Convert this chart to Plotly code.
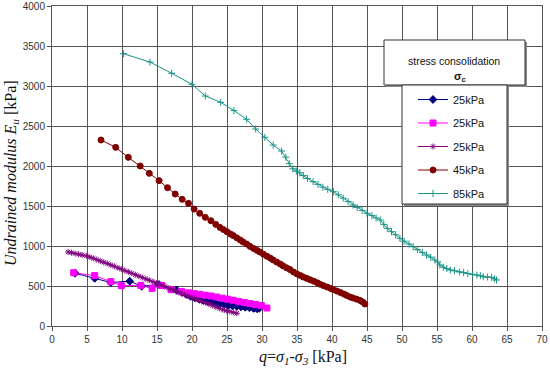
import plotly.graph_objects as go

# ---- data ----
blue_q = [3.3, 6.1, 8.4, 11.1, 12.8, 15.3, 17.8, 18.6, 19.2, 19.8, 20.4, 21.0, 21.6, 22.2, 22.8, 23.4,
          24.0, 24.6, 25.2, 25.8, 26.4, 27.0, 27.6, 28.2, 28.8, 29.3, 29.6]
blue_E = [659, 596, 544, 560, 498, 518, 450, 420, 395, 372, 352, 336, 322, 310, 298, 286,
          275, 266, 258, 252, 246, 240, 234, 228, 220, 214, 222]

magenta_q = [3.1, 6.1, 8.4, 9.9, 12.7, 14.3, 15.7, 17.0, 18.5, 19.5, 20.3, 21.1, 21.9, 22.7, 23.5,
             24.3, 25.1, 25.9, 26.7, 27.5, 28.3, 29.1, 29.9, 30.7]
magenta_E = [666, 630, 555, 504, 508, 470, 505, 455, 430, 415, 405, 395, 385, 375, 362,
             348, 335, 322, 305, 292, 280, 268, 255, 225]

purple_q = [2.3, 2.8, 3.3, 3.8, 4.3, 4.9, 5.4, 5.9, 6.4, 6.9, 7.4, 7.9, 8.4, 8.9, 9.4, 9.9, 10.4,
            10.9, 11.4, 11.9, 12.4, 12.9, 13.4, 13.9, 14.4, 14.9, 15.4, 15.9, 16.4, 16.9, 17.4,
            17.9, 18.4, 18.9, 19.4, 19.9, 20.4, 20.9, 21.4, 21.9, 22.4, 22.9, 23.4, 23.9, 24.4,
            24.9, 25.4, 25.9, 26.4]
purple_E = [925, 916, 906, 897, 888, 877, 862, 846, 830, 813, 797, 781, 763, 746, 728, 711, 693,
            676, 658, 641, 623, 606, 589, 572, 554, 537, 520, 502, 483, 465, 447,
            429, 411, 393, 376, 359, 342, 325, 308, 291, 274, 256, 239, 221, 204,
            192, 181, 170, 159]

red_q = [7.0, 9.1, 10.9, 12.6, 13.9, 15.3, 16.5, 17.6, 18.6, 19.5, 20.3, 21.1, 21.9, 22.7, 23.4,
         24.0, 24.5, 25.0, 25.5, 25.9, 26.4, 26.9, 27.3, 27.8, 28.3, 28.8, 29.3, 29.7, 30.2, 30.7,
         31.2, 31.6, 32.1, 32.6, 33.0, 33.5, 34.0, 34.5, 35.0, 35.5, 35.9, 36.4, 36.9, 37.4, 37.9,
         38.3, 38.8, 39.3, 39.8, 40.2, 40.7, 41.2, 41.7, 42.1, 42.6, 43.0, 43.5, 44.0, 44.4, 44.7]
red_E = [2325, 2233, 2108, 2000, 1908, 1817, 1729, 1650, 1583, 1533, 1462, 1408, 1358, 1316, 1270,
         1232, 1205, 1178, 1150, 1130, 1102, 1075, 1050, 1025, 995, 968, 945, 925, 898, 872,
         848, 825, 800, 775, 752, 728, 705, 675, 650, 630, 612, 595, 577, 560, 540,
         522, 504, 487, 470, 455, 437, 418, 400, 382, 362, 350, 336, 320, 300, 275]

teal_q = [10.2, 14.0, 17.1, 20.0, 21.9, 24.1, 26.0, 27.8, 29.1, 30.4, 31.6, 32.8, 33.4, 33.9, 34.4,
          34.9, 35.4, 35.9, 36.5, 37.3, 38.0, 38.7, 39.4, 40.2, 40.9, 41.6, 42.3, 43.0, 43.6, 44.3,
          45.0, 45.7, 46.3, 46.9, 47.4, 47.9, 48.5, 49.1, 49.7, 50.3, 51.0, 51.6, 52.2, 52.9, 53.5,
          54.1, 54.7, 55.1, 55.4, 55.9, 56.4, 56.9, 57.5, 58.2, 58.8, 59.4, 60.1, 60.7, 61.2, 61.6,
          62.2, 62.8, 63.2, 63.5]
teal_E = [3404, 3300, 3159, 3021, 2875, 2796, 2692, 2584, 2462, 2359, 2262, 2187, 2110, 2030, 1965,
          1935, 1916, 1880, 1845, 1804, 1770, 1735, 1708, 1679, 1640, 1598, 1555, 1512, 1480, 1445,
          1409, 1380, 1350, 1325, 1270, 1220, 1179, 1140, 1096, 1060, 1025, 991, 955, 920, 887,
          860, 825, 800, 762, 735, 718, 700, 690, 676, 666, 655, 645, 637, 628, 616,
          612, 608, 590, 575]

series = [
    ("25kPa", blue_q, blue_E, "#000080", "diamond", 6),
    ("25kPa", magenta_q, magenta_E, "#FF00FF", "square", 6),
    ("25kPa", purple_q, purple_E, "#800080", "asterisk-open", 5),
    ("45kPa", red_q, red_E, "#800000", "circle", 6),
    ("85kPa", teal_q, teal_E, "#1a9488", "cross-thin-open", 5),
]

fig = go.Figure()
for i, (name, q, E, col, sym, sz) in enumerate(series):
    fig.add_trace(go.Scatter(
        x=q, y=E, mode="lines+markers", name=name, legendgroup=f"g{i}",
        line=dict(color=col, width=1),
        marker=dict(symbol=sym, size=sz, color=col, line=dict(color=col, width=1)),
    ))

W, H = 550, 384
L, R, T, B = 52, 8, 6, 58
pw, ph = W - L - R, H - T - B


def px(xp):
    return (xp - L) / pw


def py(yp):
    return (H - B - yp) / ph


shapes = []
boxes = [(384, 40, 525, 85), (402, 85, 507, 204)]
for (x0, y0, x1, y1) in boxes:
    shapes.append(dict(type="rect", xref="paper", yref="paper", layer="above",
                       x0=px(x0 + 2), x1=px(x1 + 2), y0=py(y1 + 2), y1=py(y0 + 2),
                       fillcolor="#8a8a8a", line=dict(width=0)))
for (x0, y0, x1, y1) in boxes:
    shapes.append(dict(type="rect", xref="paper", yref="paper", layer="above",
                       x0=px(x0), x1=px(x1), y0=py(y1), y1=py(y0),
                       fillcolor="white", line=dict(color="#333333", width=1)))

ann_common = dict(xref="paper", yref="paper", showarrow=False, xanchor="center", yanchor="middle")
annotations = [
    dict(text="stress consolidation", x=px(454), y=py(61),
         font=dict(family="Liberation Sans", size=10.5, color="#111"), **ann_common),
    dict(text="<b>σ<sub>c</sub></b>", x=px(460), y=py(77),
         font=dict(family="Liberation Sans", size=11, color="#111"), **ann_common),
    dict(text="<i>Undrained modulus E<sub>u</sub></i> [kPa]", x=px(11), y=py(173), textangle=-90,
         font=dict(family="Liberation Serif", size=16, color="#111"), **ann_common),
    dict(text="<i>q</i>=<i>σ<sub>1</sub></i>-<i>σ<sub>3</sub></i> [kPa]", x=px(303), y=py(357),
         font=dict(family="Liberation Serif", size=16, color="#111"), **ann_common),
]

axis_common = dict(showgrid=True, gridcolor="#555555", gridwidth=1, showline=True,
                   linecolor="#555555", linewidth=1, mirror=True, ticks="outside", ticklen=4,
                   tickcolor="#555555", zeroline=False, automargin=False, tickmode="linear",
                   tickfont=dict(family="Liberation Sans", size=10, color="#333"))

fig.update_layout(
    width=W, height=H, autosize=False,
    margin=dict(l=L, r=R, t=T, b=B, pad=0, autoexpand=False),
    paper_bgcolor="white", plot_bgcolor="white",
    xaxis=dict(range=[0, 70], tick0=0, dtick=5, **axis_common),
    yaxis=dict(range=[0, 4000], tick0=0, dtick=500, **axis_common),
    shapes=shapes, annotations=annotations,
    showlegend=True,
    legend=dict(x=px(413), y=py(85), xanchor="left", yanchor="top",
                bgcolor="rgba(0,0,0,0)", borderwidth=0, tracegroupgap=4.5,
                font=dict(family="Liberation Sans", size=11, color="#111")),
)

fig.write_html("out.html", config={"displayModeBar": False},
               post_script="document.body.style.margin='0';")
